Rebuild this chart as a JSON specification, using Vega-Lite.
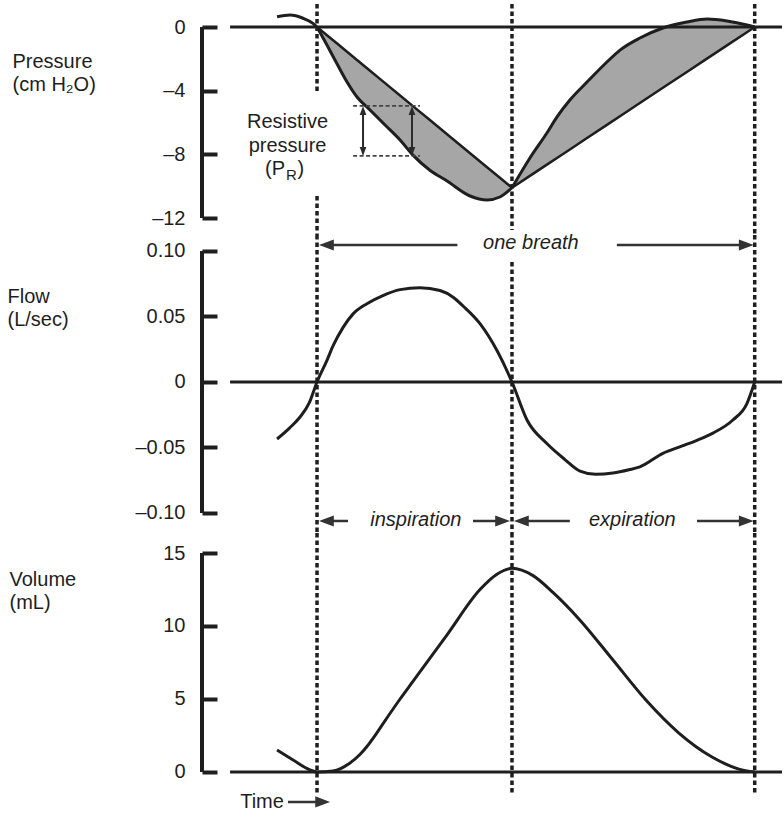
{
  "$schema": "https://vega.github.io/schema/vega-lite/v6.json",
  "padding": {"left": 7, "top": 2, "right": 0, "bottom": 0},
  "background": "white",
  "config": {
    "view": {"stroke": null},
    "font": "Liberation Sans",
    "axis": {
      "domain": false,
      "tickColor": "#1e1e1e", "tickWidth": 4, "tickSize": -15,
      "labelFontSize": 20, "labelColor": "#1e1e1e", "labelPadding": 32, "labelFont": "Liberation Sans",
      "grid": false,
      "titleFontSize": 20, "titleFontWeight": "normal", "titleColor": "#1e1e1e", "titleFont": "Liberation Sans",
      "titleAngle": 0, "titleAlign": "left", "titleBaseline": "alphabetic", "titleLineHeight": 23
    },
    "text": {"font": "Liberation Sans", "fontSize": 20, "color": "#1e1e1e"}
  },
  "datasets": {
    "pressure": [
      {"t": -0.205, "p": 0.65, "phase": "pre"},
      {"t": -0.138, "p": 0.75, "phase": "pre"},
      {"t": -0.072, "p": 0.55, "phase": "pre"},
      {"t": -0.021, "p": 0.23, "phase": "pre"},
      {"t": 0, "p": 0, "phase": "pre"},
      {"t": 0, "p": 0, "chord": 0, "phase": "insp"},
      {"t": 0.051, "p": -1.131, "chord": -0.515, "phase": "insp"},
      {"t": 0.103, "p": -2.325, "chord": -1.04, "phase": "insp"},
      {"t": 0.154, "p": -3.455, "chord": -1.555, "phase": "insp"},
      {"t": 0.205, "p": -4.398, "chord": -2.071, "phase": "insp"},
      {"t": 0.272, "p": -5.214, "chord": -2.747, "phase": "insp"},
      {"t": 0.349, "p": -6.157, "chord": -3.525, "phase": "insp"},
      {"t": 0.426, "p": -7.1, "chord": -4.303, "phase": "insp"},
      {"t": 0.492, "p": -8.048, "chord": -4.969, "phase": "insp"},
      {"t": 0.579, "p": -9.0, "chord": -5.848, "phase": "insp"},
      {"t": 0.667, "p": -9.675, "chord": -6.737, "phase": "insp"},
      {"t": 0.785, "p": -10.618, "chord": -7.929, "phase": "insp"},
      {"t": 0.872, "p": -10.869, "chord": -8.807, "phase": "insp"},
      {"t": 0.938, "p": -10.681, "chord": -9.474, "phase": "insp"},
      {"t": 1.0, "p": -10.1, "chord": -10.1, "phase": "insp"},
      {"t": 1.0, "p": -10.1, "chord": -10.1, "phase": "exp"},
      {"t": 1.092, "p": -8.23, "chord": -9.354, "phase": "exp"},
      {"t": 1.179, "p": -6.66, "chord": -8.648, "phase": "exp"},
      {"t": 1.231, "p": -5.65, "chord": -8.226, "phase": "exp"},
      {"t": 1.297, "p": -4.59, "chord": -7.691, "phase": "exp"},
      {"t": 1.385, "p": -3.46, "chord": -6.977, "phase": "exp"},
      {"t": 1.487, "p": -2.2, "chord": -6.15, "phase": "exp"},
      {"t": 1.554, "p": -1.45, "chord": -5.606, "phase": "exp"},
      {"t": 1.656, "p": -0.69, "chord": -4.779, "phase": "exp"},
      {"t": 1.774, "p": -0.06, "chord": -3.821, "phase": "exp"},
      {"t": 1.897, "p": 0.31, "chord": -2.824, "phase": "exp"},
      {"t": 2.0, "p": 0.5, "chord": -1.988, "phase": "exp"},
      {"t": 2.103, "p": 0.38, "chord": -1.152, "phase": "exp"},
      {"t": 2.205, "p": 0.13, "chord": -0.325, "phase": "exp"},
      {"t": 2.245, "p": 0, "chord": 0, "phase": "exp"}
    ],
    "flow": [
      {"t": -0.205, "f": -0.0435}, {"t": -0.14, "f": -0.035}, {"t": -0.087, "f": -0.0267},
      {"t": -0.04, "f": -0.016}, {"t": 0, "f": 0},
      {"t": 0.051, "f": 0.0165}, {"t": 0.082, "f": 0.0275}, {"t": 0.133, "f": 0.0415},
      {"t": 0.185, "f": 0.052}, {"t": 0.256, "f": 0.0598}, {"t": 0.338, "f": 0.066},
      {"t": 0.426, "f": 0.0705}, {"t": 0.528, "f": 0.072}, {"t": 0.631, "f": 0.0698},
      {"t": 0.7, "f": 0.0645}, {"t": 0.749, "f": 0.058}, {"t": 0.836, "f": 0.0445},
      {"t": 0.923, "f": 0.024}, {"t": 1.0, "f": 0}, {"t": 1.077, "f": -0.029},
      {"t": 1.179, "f": -0.047}, {"t": 1.27, "f": -0.059}, {"t": 1.349, "f": -0.068},
      {"t": 1.43, "f": -0.0705}, {"t": 1.518, "f": -0.0695}, {"t": 1.6, "f": -0.067},
      {"t": 1.656, "f": -0.0648}, {"t": 1.774, "f": -0.0545}, {"t": 1.87, "f": -0.049},
      {"t": 1.949, "f": -0.0445}, {"t": 2.031, "f": -0.039}, {"t": 2.133, "f": -0.029},
      {"t": 2.205, "f": -0.0165}, {"t": 2.245, "f": 0}
    ],
    "volume": [
      {"t": -0.205, "vol": 1.5}, {"t": -0.123, "vol": 0.82}, {"t": -0.036, "vol": 0.14},
      {"t": 0, "vol": 0}, {"t": 0.082, "vol": 0.07}, {"t": 0.169, "vol": 0.62},
      {"t": 0.22, "vol": 1.2}, {"t": 0.256, "vol": 1.75}, {"t": 0.3, "vol": 2.55},
      {"t": 0.338, "vol": 3.3}, {"t": 0.426, "vol": 5.0},
      {"t": 0.492, "vol": 6.2}, {"t": 0.667, "vol": 9.4}, {"t": 0.836, "vol": 12.5},
      {"t": 0.923, "vol": 13.55}, {"t": 1.0, "vol": 13.95}, {"t": 1.108, "vol": 13.45},
      {"t": 1.21, "vol": 12.3}, {"t": 1.349, "vol": 10.4}, {"t": 1.518, "vol": 7.67},
      {"t": 1.687, "vol": 4.93}, {"t": 1.856, "vol": 2.67}, {"t": 2.026, "vol": 1.03},
      {"t": 2.164, "vol": 0.2}, {"t": 2.245, "vol": 0}
    ],
    "p_dots": [
      {"t": 0, "top": 1.445, "bottom": -4.084},
      {"t": 0, "top": -10.62, "bottom": -13.068},
      {"t": 1, "top": 1.445, "bottom": -12.75},
      {"t": 2.245, "top": 1.445, "bottom": -13.068}
    ],
    "f_dots": [
      {"t": 0, "top": 0.1122, "bottom": -0.1153},
      {"t": 1, "top": 0.0916, "bottom": -0.1153},
      {"t": 2.245, "top": 0.1122, "bottom": -0.1153}
    ],
    "v_dots": [
      {"t": 0, "top": 16.37, "bottom": -1.44},
      {"t": 1, "top": 16.37, "bottom": -1.44},
      {"t": 2.245, "top": 16.37, "bottom": -1.44}
    ],
    "p_base": [{"t1": -0.446, "t2": 2.385, "v": 0}],
    "p_axis": [{"t": -0.59, "v1": 0, "v2": -12}],
    "f_base": [{"t1": -0.446, "t2": 2.385, "v": 0}],
    "f_axis": [{"t": -0.59, "v1": 0.1, "v2": -0.1}],
    "v_base": [{"t1": -0.446, "t2": 2.385, "v": 0}],
    "v_axis": [{"t": -0.59, "v1": 0, "v2": 15}],
    "pr_dash": [
      {"t1": 0.185, "t2": 0.528, "v": -4.96},
      {"t1": 0.185, "t2": 0.528, "v": -8.1}
    ],
    "pr_arrows": [
      {"t": 0.236, "v1": -5.3, "v2": -7.76},
      {"t": 0.487, "v1": -5.3, "v2": -7.76}
    ],
    "pr_heads": [
      {"t": 0.236, "v": -4.96, "dir": "up"},
      {"t": 0.236, "v": -8.1, "dir": "down"},
      {"t": 0.487, "v": -4.96, "dir": "up"},
      {"t": 0.487, "v": -8.1, "dir": "down"}
    ],
    "p_text": [{"label": "Resistive\npressure", "t": -0.151, "v": -6.35}],
    "pr_sub": [{"t": -0.164, "v": -9.3}],
    "f_arrows": [
      {"t1": 0.72, "t2": 0.04, "v": 0.1046},
      {"t1": 1.538, "t2": 2.21, "v": 0.1046},
      {"t1": 0.159, "t2": 0.04, "v": -0.1061},
      {"t1": 0.8, "t2": 0.96, "v": -0.1061},
      {"t1": 1.297, "t2": 1.04, "v": -0.1061},
      {"t1": 1.949, "t2": 2.21, "v": -0.1061}
    ],
    "f_heads": [
      {"t": 0.01, "v": 0.1046, "dir": "left"},
      {"t": 2.24, "v": 0.1046, "dir": "right"},
      {"t": 0.01, "v": -0.1061, "dir": "left"},
      {"t": 0.99, "v": -0.1061, "dir": "right"},
      {"t": 1.01, "v": -0.1061, "dir": "left"},
      {"t": 2.24, "v": -0.1061, "dir": "right"}
    ],
    "f_text": [
      {"label": "one breath", "t": 1.097, "v": 0.1061},
      {"label": "inspiration", "t": 0.507, "v": -0.1053},
      {"label": "expiration", "t": 1.617, "v": -0.1053}
    ],
    "v_arrow": [{"t1": -0.149, "t2": 0.04, "v": -2.05}],
    "v_head": [{"t": 0.067, "v": -2.05, "dir": "right"}],
    "v_text": [{"label": "Time", "t": -0.282, "v": -2.05}]
  },
  "spacing": 0,
  "bounds": "flush",
  "vconcat": [
    {
      "width": 580,
      "height": 233,
      "layer": [
        {
          "data": {"name": "pressure"},
          "transform": [{"filter": "datum.phase != 'pre'"}],
          "mark": {"type": "area", "interpolate": "monotone", "color": "#a6a6a6", "opacity": 1},
          "encoding": {
            "x": {"field": "t", "type": "quantitative", "scale": {"domain": [-0.59, 2.385], "nice": false, "zero": false}, "axis": null},
            "y": {"field": "p", "type": "quantitative", "scale": {"domain": [-13.068, 1.571], "nice": false, "zero": false},
                  "axis": {"values": [0, -4, -8, -12], "labelExpr": "datum.value == 0 ? '0' : '–' + format(abs(datum.value), 'd')",
                           "title": ["Pressure", "(cm H₂O)"], "titleX": -190, "titleY": 65}},
            "y2": {"field": "chord"},
            "detail": {"field": "phase"}
          }
        },
        {
          "data": {"name": "pressure"},
          "transform": [{"filter": "datum.phase != 'pre'"}],
          "mark": {"type": "line", "color": "#1e1e1e", "strokeWidth": 2.5},
          "encoding": {
            "x": {"field": "t", "type": "quantitative"},
            "y": {"field": "chord", "type": "quantitative"},
            "detail": {"field": "phase"}
          }
        },
        {
          "data": {"name": "pressure"},
          "mark": {"type": "line", "interpolate": "monotone", "color": "#1e1e1e", "strokeWidth": 3},
          "encoding": {
            "x": {"field": "t", "type": "quantitative"},
            "y": {"field": "p", "type": "quantitative"},
            "detail": {"field": "phase"}
          }
        },
        {
          "data": {"name": "p_base"},
          "mark": {"type": "rule", "color": "#1e1e1e", "strokeWidth": 3},
          "encoding": {
            "x": {"field": "t1", "type": "quantitative"},
            "x2": {"field": "t2"},
            "y": {"field": "v", "type": "quantitative"}
          }
        },
        {
          "data": {"name": "p_axis"},
          "mark": {"type": "rule", "color": "#1e1e1e", "strokeWidth": 4},
          "encoding": {
            "x": {"field": "t", "type": "quantitative"},
            "y": {"field": "v1", "type": "quantitative"},
            "y2": {"field": "v2"}
          }
        },
        {
          "data": {"name": "p_dots"},
          "mark": {"type": "rule", "color": "#1e1e1e", "strokeWidth": 3.5, "strokeDash": [4.5, 3]},
          "encoding": {
            "x": {"field": "t", "type": "quantitative"},
            "y": {"field": "top", "type": "quantitative"},
            "y2": {"field": "bottom"}
          }
        },
        {
          "data": {"name": "pr_dash"},
          "mark": {"type": "rule", "color": "#444444", "strokeWidth": 1.8, "strokeDash": [4, 2.5]},
          "encoding": {
            "x": {"field": "t1", "type": "quantitative"},
            "x2": {"field": "t2"},
            "y": {"field": "v", "type": "quantitative"}
          }
        },
        {
          "data": {"name": "pr_arrows"},
          "mark": {"type": "rule", "color": "#2a2a2a", "strokeWidth": 2},
          "encoding": {
            "x": {"field": "t", "type": "quantitative"},
            "y": {"field": "v1", "type": "quantitative"},
            "y2": {"field": "v2"}
          }
        },
        {
          "data": {"name": "pr_heads"},
          "mark": {"type": "point", "filled": true, "size": 80, "color": "#2a2a2a", "opacity": 1, "strokeWidth": 0},
          "encoding": {
            "x": {"field": "t", "type": "quantitative"},
            "y": {"field": "v", "type": "quantitative"},
            "shape": {"field": "dir", "type": "nominal", "legend": null,
                      "scale": {"domain": ["right", "left", "up", "down"],
                                "range": ["M0,0L-2,-0.75L-2,0.75Z", "M0,0L2,-0.75L2,0.75Z", "M0,0L-0.75,2L0.75,2Z", "M0,0L-0.75,-2L0.75,-2Z"]}}
          }
        },
        {
          "data": {"name": "p_text"},
          "mark": {"type": "text", "align": "center", "baseline": "alphabetic", "lineBreak": "\n", "lineHeight": 23.5, "fontSize": 20, "color": "#1e1e1e"},
          "encoding": {
            "x": {"field": "t", "type": "quantitative"},
            "y": {"field": "v", "type": "quantitative"},
            "text": {"field": "label"}
          }
        },
        {
          "data": {"name": "pr_sub"},
          "mark": {"type": "text", "align": "right", "baseline": "alphabetic", "fontSize": 20, "color": "#1e1e1e"},
          "encoding": {
            "x": {"field": "t", "type": "quantitative"},
            "y": {"field": "v", "type": "quantitative"},
            "text": {"value": "(P"}
          }
        },
        {
          "data": {"name": "pr_sub"},
          "mark": {"type": "text", "align": "left", "baseline": "alphabetic", "fontSize": 15, "dx": 1, "dy": 5, "color": "#1e1e1e"},
          "encoding": {
            "x": {"field": "t", "type": "quantitative"},
            "y": {"field": "v", "type": "quantitative"},
            "text": {"value": "R"}
          }
        },
        {
          "data": {"name": "pr_sub"},
          "mark": {"type": "text", "align": "left", "baseline": "alphabetic", "fontSize": 20, "dx": 12.5, "color": "#1e1e1e"},
          "encoding": {
            "x": {"field": "t", "type": "quantitative"},
            "y": {"field": "v", "type": "quantitative"},
            "text": {"value": ")"}
          }
        }
      ]
    },
    {
      "width": 580,
      "height": 298,
      "layer": [
        {
          "data": {"name": "flow"},
          "mark": {"type": "line", "interpolate": "monotone", "color": "#1e1e1e", "strokeWidth": 3},
          "encoding": {
            "x": {"field": "t", "type": "quantitative", "scale": {"domain": [-0.59, 2.385], "nice": false, "zero": false}, "axis": null},
            "y": {"field": "f", "type": "quantitative", "scale": {"domain": [-0.11527, 0.11221], "nice": false, "zero": false},
                  "axis": {"values": [0.1, 0.05, 0, -0.05, -0.1], "labelExpr": "datum.value == 0 ? '0' : (datum.value < 0 ? '–' : '') + format(abs(datum.value), '.2f')",
                           "title": ["Flow", "(L/sec)"], "titleX": -195, "titleY": 67}}
          }
        },
        {
          "data": {"name": "f_base"},
          "mark": {"type": "rule", "color": "#1e1e1e", "strokeWidth": 3},
          "encoding": {
            "x": {"field": "t1", "type": "quantitative"},
            "x2": {"field": "t2"},
            "y": {"field": "v", "type": "quantitative"}
          }
        },
        {
          "data": {"name": "f_axis"},
          "mark": {"type": "rule", "color": "#1e1e1e", "strokeWidth": 4},
          "encoding": {
            "x": {"field": "t", "type": "quantitative"},
            "y": {"field": "v1", "type": "quantitative"},
            "y2": {"field": "v2"}
          }
        },
        {
          "data": {"name": "f_dots"},
          "mark": {"type": "rule", "color": "#1e1e1e", "strokeWidth": 3.5, "strokeDash": [4.5, 3]},
          "encoding": {
            "x": {"field": "t", "type": "quantitative"},
            "y": {"field": "top", "type": "quantitative"},
            "y2": {"field": "bottom"}
          }
        },
        {
          "data": {"name": "f_arrows"},
          "mark": {"type": "rule", "color": "#333333", "strokeWidth": 2.5},
          "encoding": {
            "x": {"field": "t1", "type": "quantitative"},
            "x2": {"field": "t2"},
            "y": {"field": "v", "type": "quantitative"}
          }
        },
        {
          "data": {"name": "f_heads"},
          "mark": {"type": "point", "filled": true, "size": 220, "color": "#333333", "opacity": 1, "strokeWidth": 0},
          "encoding": {
            "x": {"field": "t", "type": "quantitative"},
            "y": {"field": "v", "type": "quantitative"},
            "shape": {"field": "dir", "type": "nominal", "legend": null,
                      "scale": {"domain": ["right", "left", "up", "down"],
                                "range": ["M0,0L-2,-0.75L-2,0.75Z", "M0,0L2,-0.75L2,0.75Z", "M0,0L-0.75,2L0.75,2Z", "M0,0L-0.75,-2L0.75,-2Z"]}}
          }
        },
        {
          "data": {"name": "f_text"},
          "mark": {"type": "text", "align": "center", "baseline": "middle", "fontSize": 20, "fontStyle": "italic", "color": "#1e1e1e"},
          "encoding": {
            "x": {"field": "t", "type": "quantitative"},
            "y": {"field": "v", "type": "quantitative"},
            "text": {"field": "label"}
          }
        }
      ]
    },
    {
      "width": 580,
      "height": 281,
      "layer": [
        {
          "data": {"name": "volume"},
          "mark": {"type": "line", "interpolate": "monotone", "color": "#1e1e1e", "strokeWidth": 3},
          "encoding": {
            "x": {"field": "t", "type": "quantitative", "scale": {"domain": [-0.59, 2.385], "nice": false, "zero": false}, "axis": null},
            "y": {"field": "vol", "type": "quantitative", "scale": {"domain": [-2.877, 16.37], "nice": false, "zero": false},
                  "axis": {"values": [0, 5, 10, 15], "title": ["Volume", "(mL)"], "titleX": -193, "titleY": 52}}
          }
        },
        {
          "data": {"name": "v_base"},
          "mark": {"type": "rule", "color": "#1e1e1e", "strokeWidth": 3},
          "encoding": {
            "x": {"field": "t1", "type": "quantitative"},
            "x2": {"field": "t2"},
            "y": {"field": "v", "type": "quantitative"}
          }
        },
        {
          "data": {"name": "v_axis"},
          "mark": {"type": "rule", "color": "#1e1e1e", "strokeWidth": 4},
          "encoding": {
            "x": {"field": "t", "type": "quantitative"},
            "y": {"field": "v1", "type": "quantitative"},
            "y2": {"field": "v2"}
          }
        },
        {
          "data": {"name": "v_dots"},
          "mark": {"type": "rule", "color": "#1e1e1e", "strokeWidth": 3.5, "strokeDash": [4.5, 3]},
          "encoding": {
            "x": {"field": "t", "type": "quantitative"},
            "y": {"field": "top", "type": "quantitative"},
            "y2": {"field": "bottom"}
          }
        },
        {
          "data": {"name": "v_arrow"},
          "mark": {"type": "rule", "color": "#333333", "strokeWidth": 2.5},
          "encoding": {
            "x": {"field": "t1", "type": "quantitative"},
            "x2": {"field": "t2"},
            "y": {"field": "v", "type": "quantitative"}
          }
        },
        {
          "data": {"name": "v_head"},
          "mark": {"type": "point", "filled": true, "size": 220, "color": "#333333", "opacity": 1, "strokeWidth": 0},
          "encoding": {
            "x": {"field": "t", "type": "quantitative"},
            "y": {"field": "v", "type": "quantitative"},
            "shape": {"field": "dir", "type": "nominal", "legend": null,
                      "scale": {"domain": ["right", "left", "up", "down"],
                                "range": ["M0,0L-2,-0.75L-2,0.75Z", "M0,0L2,-0.75L2,0.75Z", "M0,0L-0.75,2L0.75,2Z", "M0,0L-0.75,-2L0.75,-2Z"]}}
          }
        },
        {
          "data": {"name": "v_text"},
          "mark": {"type": "text", "align": "center", "baseline": "middle", "fontSize": 20, "color": "#1e1e1e"},
          "encoding": {
            "x": {"field": "t", "type": "quantitative"},
            "y": {"field": "v", "type": "quantitative"},
            "text": {"field": "label"}
          }
        }
      ]
    }
  ]
}
